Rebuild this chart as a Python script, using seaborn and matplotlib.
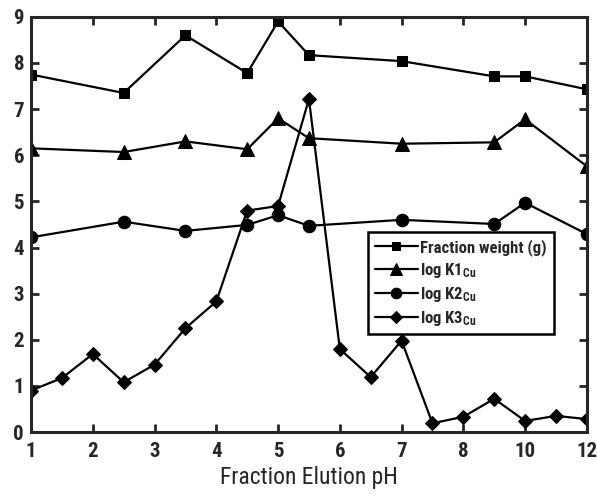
import numpy as np
import pandas as pd
import matplotlib
matplotlib.use("Agg")
import matplotlib.pyplot as plt
import seaborn as sns
from matplotlib import font_manager

sns.set_style("ticks")
names = {f.name for f in font_manager.fontManager.ttflist}
fam = "Liberation Sans"
for cand in ["Liberation Sans Narrow", "Roboto Condensed", "Archivo Narrow", "Asap Condensed"]:
    if cand in names:
        fam = cand
        break
plt.rcParams['font.family'] = [fam, 'DejaVu Sans']
plt.rcParams['mathtext.fontset'] = 'custom'
plt.rcParams['mathtext.rm'] = fam
plt.rcParams['mathtext.it'] = fam
plt.rcParams['mathtext.bf'] = fam + ':bold'

# Data
tick_ph = [1, 2, 3, 4, 5, 6, 7, 8, 10, 12]
tick_labels = ["1", "2", "3", "4", "5", "6", "7", "8", "10", "12"]

ph_main = [1, 2.5, 3.5, 4.5, 5, 5.5, 7, 9, 10, 12]
fraction_weight = [7.75, 7.35, 8.6, 7.78, 8.9, 8.17, 8.04, 7.71, 7.71, 7.43]
log_k1 = [6.15, 6.07, 6.3, 6.13, 6.8, 6.37, 6.25, 6.28, 6.78, 5.76]
log_k2 = [4.22, 4.56, 4.36, 4.49, 4.7, 4.47, 4.6, 4.51, 4.97, 4.29]

ph_k3 = [1, 1.5, 2, 2.5, 3, 3.5, 4, 4.5, 5, 5.5, 6, 6.5, 7, 7.5, 8, 9, 10, 11, 12]
log_k3 = [0.9, 1.17, 1.69, 1.08, 1.46, 2.25, 2.83, 4.8, 4.9, 7.22, 1.8, 1.19, 1.98,
          0.19, 0.33, 0.72, 0.24, 0.35, 0.28]

series = [
    ("Fraction weight (g)", ph_main, fraction_weight, "s"),
    (r"log K1$_{\mathbf{Cu}}$", ph_main, log_k1, "^"),
    (r"log K2$_{\mathbf{Cu}}$", ph_main, log_k2, "o"),
    (r"log K3$_{\mathbf{Cu}}$", ph_k3, log_k3, "D"),
]
sizes = {"s": 7, "^": 10.5, "o": 9, "D": 7.5}

fig = plt.figure(figsize=(5.97, 4.96), dpi=100)
ax = fig.add_axes([0.052, 0.129, 0.931, 0.837])

tick_pos = np.arange(len(tick_ph))
for label, ph, vals, m in series:
    pos = np.interp(ph, tick_ph, tick_pos)
    df = pd.DataFrame({"pos": pos, "val": vals})
    sns.lineplot(data=df, x="pos", y="val", ax=ax, color="black", lw=1.6,
                 marker=m, markersize=sizes[m], markeredgecolor="black",
                 label=label, sort=False)

ax.set_xlim(0, len(tick_ph) - 1)
ax.set_ylim(0, 9)
ax.set_xticks(tick_pos)
ax.set_xticklabels(tick_labels)
ax.set_yticks(range(0, 10))
ax.tick_params(axis="both", direction="in", length=6, width=2,
               labelsize=15, top=True, right=True)
for lab in ax.get_xticklabels() + ax.get_yticklabels():
    lab.set_fontweight("bold")
ax.tick_params(axis="x", pad=7)
ax.tick_params(axis="y", pad=5)
for s in ax.spines.values():
    s.set_linewidth(2.2)
    s.set_visible(True)
ax.set_xlabel("Fraction Elution pH", fontsize=17, labelpad=4)
ax.set_ylabel("")

leg = ax.legend(loc="upper left", bbox_to_anchor=(0.606, 0.482), frameon=True,
                fancybox=False, edgecolor="black", framealpha=1,
                prop={"weight": "bold", "size": 12},
                markerscale=0.85, handlelength=2.6, borderpad=0.4,
                labelspacing=0.3, handletextpad=0.15, borderaxespad=0)
leg.get_frame().set_linewidth(1.8)

fig.savefig("out.png", dpi=100)
